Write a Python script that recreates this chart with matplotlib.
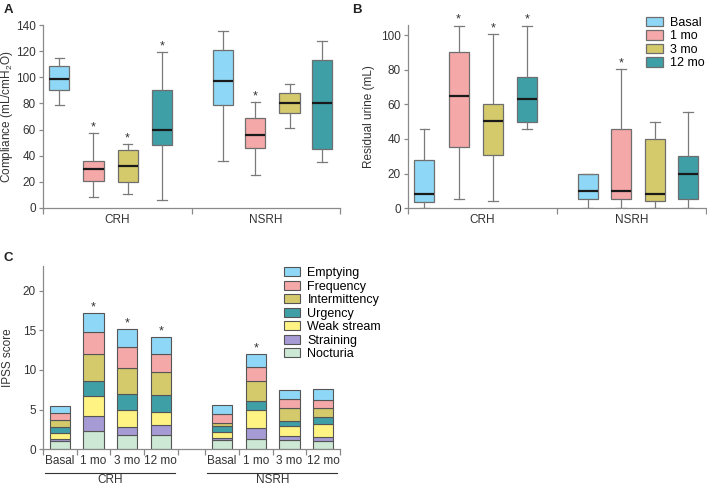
import matplotlib
matplotlib.use("Agg")
import matplotlib.pyplot as plt
import matplotlib.transforms as mtransforms
from matplotlib.patches import Patch
from matplotlib.lines import Line2D

plt.rcParams.update({
    "font.family":       ["Liberation Sans", "DejaVu Sans"],
    "font.size":         8.5,
    "mathtext.fontset":  "custom",
    "mathtext.rm":       "Liberation Sans",
    "mathtext.it":       "Liberation Sans",
    "axes.edgecolor":    "#8a8a8a",
    "axes.linewidth":    0.9,
    "xtick.color":       "#8a8a8a",
    "ytick.color":       "#8a8a8a",
    "xtick.labelcolor":  "#333333",
    "ytick.labelcolor":  "#333333",
    "axes.labelcolor":   "#333333",
    "axes.spines.top":   False,
    "axes.spines.right": False,
})

GROUPS = ["CRH", "NSRH"]
TIMEPOINTS = ["Basal", "1 mo", "3 mo", "12 mo"]
TIME_COLORS = ["#8fd7f6", "#f5a8a8", "#d4ca6c", "#3f9fa7"]

# significance marks (same pattern in all three panels)
SIG = {"CRH": [0, 1, 1, 1], "NSRH": [0, 1, 0, 0]}

# box stats per timepoint: (whisker low, q1, median, q3, whisker high)
COMP_CRH = [(79, 90, 99, 109, 114.5), (8.5, 21, 29.5, 36, 57),
            (11, 20, 32, 44, 49), (6, 48, 60, 90, 119.5)]
COMP_NSRH = [(36, 79, 97, 120.5, 135.5), (25, 46, 56, 68.5, 81),
             (61, 73, 80.5, 88, 94.5), (35, 45.5, 80.5, 113.5, 128)]

RES_CRH = [(0, 3.5, 8, 28, 45.5), (5.5, 35.5, 65, 90, 105.5),
           (4, 30.5, 50.5, 60, 100.5), (45.5, 50, 63, 75.5, 105.5)]
RES_NSRH = [(0, 5.5, 10, 20, 20), (0, 5.5, 10, 45.5, 80.5),
            (0, 4.5, 8, 40, 50), (0, 5.5, 20, 30, 55.5)]

# IPSS sub-scores, stacked bottom -> top
SYMPTOMS = ["Nocturia", "Straining", "Weak stream", "Urgency",
            "Intermittency", "Frequency", "Emptying"]
SYM_COLORS = ["#cde8d4", "#a69bd4", "#fff383", "#3f9fa7",
              "#d4ca6c", "#f5a8a8", "#8fd7f6"]
# rows = symptom (same order as SYMPTOMS), columns = Basal, 1, 3, 12 mo
IPSS_CRH = [[1.1, 2.35, 1.75, 1.85],
            [0.2, 1.8, 1.0, 1.2],
            [0.7, 2.6, 2.15, 1.7],
            [0.8, 1.8, 2.1, 2.05],
            [0.85, 3.4, 3.2, 2.9],
            [0.9, 2.8, 2.65, 2.35],
            [0.95, 2.45, 2.3, 2.05]]
IPSS_NSRH = [[1.15, 1.3, 1.15, 1.05],
             [0.25, 1.35, 0.55, 0.55],
             [0.75, 2.25, 1.25, 1.65],
             [0.8, 1.2, 0.65, 0.8],
             [0.4, 2.55, 1.55, 1.1],
             [1.1, 1.75, 1.15, 1.05],
             [1.1, 1.6, 1.2, 1.4]]

# box positions inside each group (fraction of the group width)
OFFSETS = {"CRH": [0.11, 0.34, 0.57, 0.80], "NSRH": [0.21, 0.43, 0.66, 0.88]}

W, H = 707, 487
fig = plt.figure(figsize=(W / 100, H / 100), dpi=100)


def px_axes(l, t, r, b):
    return fig.add_axes([l / W, 1 - b / H, (r - l) / W, (b - t) / H])


def star(ax, x, y, dy=2):
    ax.annotate("*", (x, y), xytext=(0, dy), textcoords="offset points",
                ha="center", va="baseline", fontsize=9, color="#333333",
                annotation_clip=False)


def draw_boxes(ax, boxes):
    for g, grp in enumerate(GROUPS):
        stats = [dict(whislo=b[0], q1=b[1], med=b[2], q3=b[3], whishi=b[4])
                 for b in boxes[grp]]
        pos = [g + o for o in OFFSETS[grp]]
        arts = ax.bxp(stats, positions=pos, widths=0.135, capwidths=0.065,
                      patch_artist=True, showfliers=False, manage_ticks=False,
                      boxprops=dict(edgecolor="#6e6e6e", linewidth=0.9),
                      whiskerprops=dict(color="#7a7a7a", linewidth=0.9),
                      capprops=dict(color="#7a7a7a", linewidth=0.9),
                      medianprops=dict(color="#1a1a1a", linewidth=1.6))
        for patch, c in zip(arts["boxes"], TIME_COLORS):
            patch.set_facecolor(c)
        for p, b, s in zip(pos, boxes[grp], SIG[grp]):
            if s:
                star(ax, p, b[4])
    ax.set_xlim(0, 2)
    ax.set_xticks([0, 1, 2])
    ax.set_xticklabels([])
    ax.set_xticks([0.5, 1.5], minor=True)
    ax.set_xticklabels(GROUPS, minor=True)
    ax.tick_params(axis="x", which="major", length=4, width=0.9)
    ax.tick_params(axis="x", which="minor", length=0, pad=4)
    ax.tick_params(axis="y", length=3, width=0.9, pad=2)


# A: compliance
axA = px_axes(43, 25, 340, 208)
draw_boxes(axA, {"CRH": COMP_CRH, "NSRH": COMP_NSRH})
axA.set_ylim(0, 140)
axA.set_yticks(range(0, 141, 20))
axA.set_ylabel("Compliance (mL/cmH$_2$O)")
axA.yaxis.set_label_coords(-0.093, 0.5)

# B: residual urine
axB = px_axes(408, 25, 706, 208.3)
draw_boxes(axB, {"CRH": RES_CRH, "NSRH": RES_NSRH})
axB.set_ylim(0, 105.8)
axB.set_yticks(range(0, 101, 20))
axB.set_ylabel("Residual urine (mL)")
axB.yaxis.set_label_coords(-0.11, 0.5)
handles = [Patch(facecolor=c, edgecolor="#6e6e6e", linewidth=0.9, label=t)
           for c, t in zip(TIME_COLORS, TIMEPOINTS)]
axB.legend(handles=handles, loc="upper left", bbox_to_anchor=(0.775, 1.085),
           frameon=False, fontsize=9, handlelength=1.3, handleheight=0.75,
           handletextpad=0.6, labelspacing=0.12, borderpad=0.1)

# C: IPSS stacked bars
axC = px_axes(43, 266, 340, 449.3)
gap = 4.82
for g, (grp, data) in enumerate([("CRH", IPSS_CRH), ("NSRH", IPSS_NSRH)]):
    xs = [g * gap + i for i in range(len(TIMEPOINTS))]
    bottom = [0.0] * len(TIMEPOINTS)
    for vals, c in zip(data, SYM_COLORS):
        axC.bar(xs, vals, 0.6, bottom=bottom, color=c,
                edgecolor="#555555", linewidth=0.8)
        bottom = [b + v for b, v in zip(bottom, vals)]
    for x, top, s in zip(xs, bottom, SIG[grp]):
        if s:
            star(axC, x, top)
axC.set_ylim(0, 23.1)
axC.set_yticks(range(0, 21, 5))
axC.set_xlim(-0.5, gap + 3.5)
seps = [g * gap + i - 0.5 for g in range(2) for i in range(5)]
axC.set_xticks(seps)
axC.set_xticklabels([])
axC.set_xticks([g * gap + i for g in range(2) for i in range(4)], minor=True)
axC.set_xticklabels(TIMEPOINTS * 2, minor=True)
axC.tick_params(axis="x", which="major", length=4, width=0.9)
axC.tick_params(axis="x", which="minor", length=0, pad=4)
axC.tick_params(axis="y", length=3, width=0.9, pad=2)
axC.set_ylabel("IPSS score")
axC.yaxis.set_label_coords(-0.098, 0.5)
trans = mtransforms.blended_transform_factory(axC.transData, axC.transAxes)
for g, grp in enumerate(GROUPS):
    x0, x1 = g * gap - 0.44, g * gap + 3.42
    axC.add_line(Line2D([x0, x1], [-0.13, -0.13], transform=trans,
                        color="#333333", linewidth=0.8, clip_on=False))
    axC.text((x0 + x1) / 2, -0.168, grp, transform=trans, ha="center",
             va="center", color="#333333")
handles = [Patch(facecolor=c, edgecolor="#555555", linewidth=0.8, label=s)
           for c, s in zip(SYM_COLORS[::-1], SYMPTOMS[::-1])]
axC.legend(handles=handles, loc="upper left", bbox_to_anchor=(0.785, 1.035),
           frameon=False, fontsize=9, handlelength=1.3, handleheight=0.75,
           handletextpad=0.6, labelspacing=0.12, borderpad=0.1)

# panel letters
for lbl, x, y in [("A", 4, 10), ("B", 352, 10), ("C", 4, 258)]:
    fig.text(x / W, 1 - y / H, lbl, fontsize=9.5, fontweight="bold",
             ha="left", va="center", color="#222222")

fig.savefig("out.png", dpi=100)
